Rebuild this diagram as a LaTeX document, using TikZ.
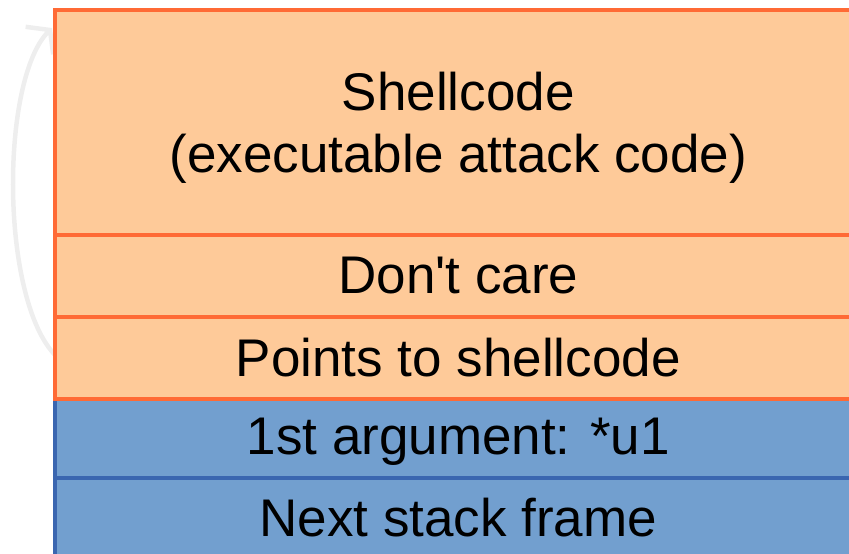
\documentclass[tikz,border=0pt]{standalone}
\usepackage{fontspec}
\newfontfamily\plainfont{Liberation Sans}
\usetikzlibrary{arrows.meta}
\definecolor{orfill}{HTML}{FECA99}
\definecolor{ordraw}{HTML}{FF6A35}
\definecolor{blfill}{HTML}{729FCF}
\definecolor{bldraw}{HTML}{3A66B0}
\definecolor{arrgray}{HTML}{EEEEEE}
\tikzset{
  txt/.style={align=center, inner sep=0pt, font=\plainfont\fontsize{53}{62}\selectfont, text=black},
  cell/.style={txt, draw, line width=3.5pt, anchor=north west, minimum width=807pt},
  orcell/.style={cell, fill=orfill, draw=ordraw},
  blcell/.style={cell, fill=blfill, draw=bldraw},
}
\begin{document}
\begin{tikzpicture}[x=1pt,y=-1pt]
\useasboundingbox (0,0) rectangle (849,554);
\clip (0,0) rectangle (849,554);
\coordinate (from) at (56,356);
\coordinate (to) at (52,28);
\draw[arrgray, line width=4.5pt, line cap=round, -{Straight Barb[length=15pt,width=39pt,line width=4.5pt]}]
  (from) .. controls (0,300) and (0,80) .. (to);
\node[blcell, minimum height=79pt] (next) at (53,476) {Next stack frame};
\node[blcell, minimum height=79pt] (arg) at (53,397) {\raisebox{-4pt}[\height][\depth]{1st argument: *u1}};
\node[orcell, minimum height=82pt] (pts) at (53,315) {Points to shellcode};
\node[orcell, minimum height=82pt] (dc) at (53,233) {Don't care};
\node[orcell, minimum height=225pt] (shell) at (53,8) {};
\node[txt] (shelltext) at ([yshift=-6pt]shell.center) {Shellcode\\(executable attack code)};
\end{tikzpicture}
\end{document}
